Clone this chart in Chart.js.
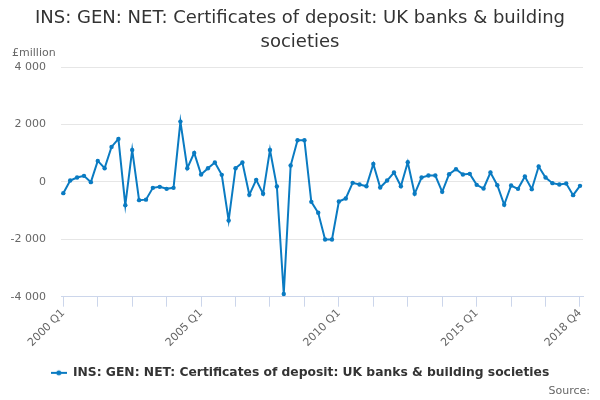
<!DOCTYPE html>
<html>
<head>
  <title>Certificates of deposit</title>
  <script src="https://cdn.jsdelivr.net/npm/chart.js"></script>
  <style>
    body { margin: 0; background: #fff; }
  </style>
</head>
<body>
<canvas id="chart" width="600" height="400"></canvas>
<script>
  const seriesName = 'INS: GEN: NET: Certificates of deposit: UK banks & building societies';
  const years = [2000, 2001, 2002, 2003, 2004, 2005, 2006, 2007, 2008, 2009,
                 2010, 2011, 2012, 2013, 2014, 2015, 2016, 2017, 2018];
  const quarters = [];
  years.forEach(y => ['Q1', 'Q2', 'Q3', 'Q4'].forEach(q => quarters.push(y + ' ' + q)));

  const values = [-394, 45, 150, 209, -10, 730, 476, 1217, 1495, -811,
                  1113, -638, -620, -209, -174, -243, -209, 2098, 476, 1008,
                  255, 476, 672, 243, -1345, 476, 672, -452, 70, -417,
                  1113, -162, -3906, 568, 1450, 1450, -696, -1078, -2006, -2006,
                  -684, -580, -35, -93, -151, 626, -197, 46, 325, -151,
                  684, -417, 150, 220, 220, -348, 267, 441, 255, 278,
                  -104, -232, 325, -116, -800, -128, -243, 186, -255, 533,
                  150, -46, -93, -58, -464, -139];

  const shownLabels = ['2000 Q1', '2005 Q1', '2010 Q1', '2015 Q1', '2018 Q4'];
  const yTicks = [-4000, -2000, 0, 2000, 4000];

  const blue = '#0a7bc2';
  const font = '"DejaVu Sans", sans-serif';

  // legend symbol: short line with a dot
  const sym = document.createElement('canvas');
  sym.width = 16; sym.height = 8;
  const sc = sym.getContext('2d');
  sc.strokeStyle = blue; sc.lineWidth = 2;
  sc.beginPath(); sc.moveTo(0, 4); sc.lineTo(16, 4); sc.stroke();
  sc.fillStyle = blue;
  sc.beginPath(); sc.arc(8, 4, 2.5, 0, Math.PI * 2); sc.fill();

  // unit label top left, source note bottom right
  const notes = {
    id: 'notes',
    afterDraw(chart) {
      const ctx = chart.ctx;
      ctx.save();
      ctx.font = '11px ' + font;
      ctx.fillStyle = '#666';
      ctx.textBaseline = 'middle';
      ctx.fillText('£million', 12, 53);
      ctx.textAlign = 'right';
      ctx.fillText('Source:', 590, 391);
      ctx.restore();
    }
  };

  function fmt(v) {
    const s = Math.abs(v).toString().replace(/\B(?=(\d{3})+(?!\d))/g, ' ');
    return (v < 0 ? '-' : '') + s;
  }

  new Chart(document.getElementById('chart'), {
    type: 'line',
    data: {
      labels: quarters,
      datasets: [{
        label: seriesName,
        data: values,
        borderColor: blue,
        backgroundColor: blue,
        borderWidth: 2,
        pointRadius: 2.2,
        pointBorderWidth: 0,
        pointHoverRadius: 3,
        tension: 0
      }]
    },
    options: {
      responsive: false,
      animation: false,
      layout: { padding: { left: 0, right: 0, top: 0, bottom: 11 } },
      plugins: {
        title: {
          display: true,
          text: ['INS: GEN: NET: Certificates of deposit: UK banks & building', 'societies'],
          color: '#333',
          font: { family: font, size: 18, weight: 'normal', lineHeight: 1.3 },
          padding: { top: 7, bottom: 13.2 }
        },
        legend: {
          position: 'bottom',
          labels: {
            usePointStyle: true,
            pointStyle: sym,
            pointStyleWidth: 16,
            color: '#333',
            font: { family: font, size: 12.3, weight: 'bold' },
            padding: 10
          }
        },
        tooltip: { enabled: false }
      },
      scales: {
        x: {
          afterFit(s) { s.height = 60; },
          afterBuildTicks(s) {
            // small inset of first/last point from the plot edges
            s._startValue = -0.334;
            s._valueRange = 75.77;
          },
          grid: {
            drawOnChartArea: false,
            tickLength: 10,
            tickColor: c => (c.index % 5 === 0 ? '#ccd6eb' : 'rgba(0,0,0,0)')
          },
          border: { color: '#ccd6eb' },
          ticks: {
            autoSkip: false,
            maxRotation: 45,
            minRotation: 45,
            color: '#666',
            font: { family: font, size: 11 },
            padding: 0,
            callback(v, i) {
              const l = quarters[i];
              return shownLabels.includes(l) ? l : '';
            }
          }
        },
        y: {
          min: -4000,
          max: 4000,
          afterFit(s) { s.width = 61; },
          afterBuildTicks(s) { s.ticks = yTicks.map(v => ({ value: v })); },
          grid: { color: '#e6e6e6', drawTicks: false },
          border: { display: false },
          ticks: {
            color: '#666',
            font: { family: font, size: 11 },
            padding: 15,
            callback: v => fmt(v)
          }
        },
        // empty right-hand spacer so the plot ends at the same place as the reference
        spacer: {
          position: 'right',
          min: 0,
          max: 1,
          afterFit(s) { s.width = 17; },
          grid: { display: false },
          border: { display: false },
          ticks: { display: false }
        }
      }
    },
    plugins: [notes]
  });
</script>
</body>
</html>
